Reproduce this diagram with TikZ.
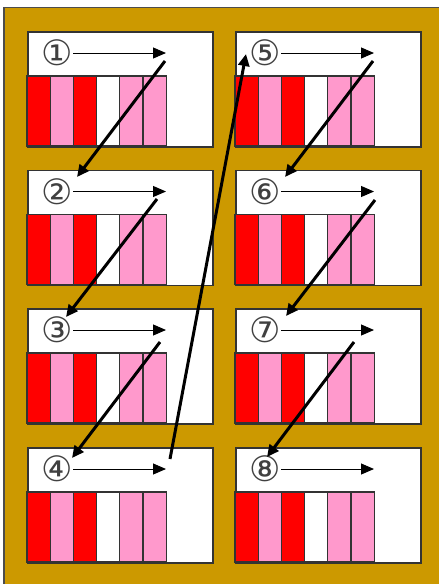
\documentclass[tikz,border=0pt]{standalone}
\usepackage{fontspec}
\newfontfamily\djv{DejaVu Sans}
\usetikzlibrary{arrows.meta,calc}
\definecolor{gold}{HTML}{CC9900}
\definecolor{pinkbar}{HTML}{FF99CC}
\definecolor{redbar}{HTML}{FF0000}
\definecolor{edge}{HTML}{333333}
\tikzset{
  panel/.style={draw=edge, line width=1.5pt, fill=white, minimum width=185pt, minimum height=115pt, inner sep=0pt, anchor=north west},
  bar/.style={draw=edge, line width=1.3pt},
  num/.style={font=\djv\fontsize{35}{35}\selectfont, inner sep=0pt, text=black!75},
  thinarrow/.style={line width=1pt, -{Triangle[length=13pt,width=11pt]}},
  jump/.style={line width=3pt, -{Triangle[length=12pt,width=11pt]}},
}
\begin{document}
\begin{tikzpicture}[x=1pt,y=-1pt]
\useasboundingbox (0,0) rectangle (439,584);
\fill[white] (0,0) rectangle (439,584);
\draw[fill=gold, draw=black!70, line width=1.5pt] (4,7.5) rectangle (445,590);
\foreach \i/\x/\y/\lab in {1/27/31/①,2/27/169.5/②,3/27/308/③,4/27/447/④,5/235/31/⑤,6/235/169.5/⑥,7/235/308/⑦,8/235/447/⑧}{
  \node[panel] (p\i) at (\x,\y) {};
  \foreach \k/\c in {0/redbar,1/pinkbar,2/redbar,3/white,4/pinkbar,5/pinkbar}{
    \draw[bar, fill=\c] ($(\x,\y)+(\k*23.2,45)$) rectangle ($(\x,\y)+(\k*23.2+23.2,115)$);
  }
  \node[num] (n\i) at ($(\x,\y)+(30,22)$) {\lab};
  \coordinate (e\i) at ($(\x,\y)+(139,22)$);
  \draw[thinarrow] ($(\x,\y)+(46,22)$) -- (e\i);
}
\coordinate (s1) at (165,61);  \coordinate (t1) at (77,177);
\coordinate (s2) at (157,199); \coordinate (t2) at (66,317);
\coordinate (s3) at (160,342); \coordinate (t3) at (72,458);
\coordinate (s4) at (170,459); \coordinate (t4) at (246,54);
\coordinate (s5) at (373,61);  \coordinate (t5) at (285,177);
\coordinate (s6) at (375,200); \coordinate (t6) at (286,316);
\coordinate (s7) at (354,342); \coordinate (t7) at (267,457);
\foreach \i in {1,...,7}{ \draw[jump] (s\i) -- (t\i); }
\end{tikzpicture}
\end{document}
